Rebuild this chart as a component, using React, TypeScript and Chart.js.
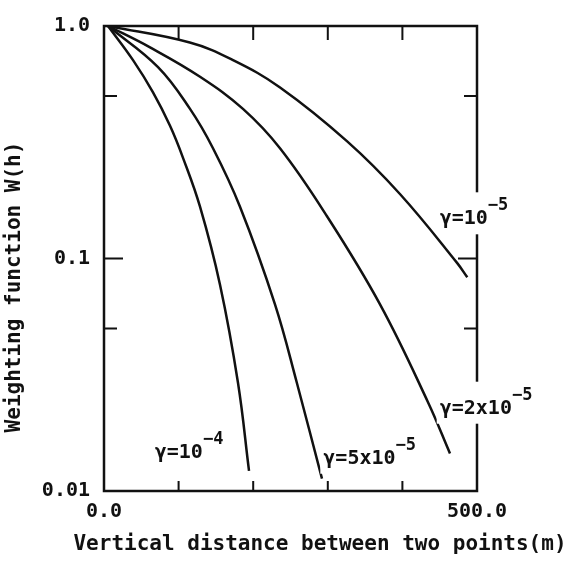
import React, { useEffect, useRef } from 'react';
import { Chart, registerables } from 'chart.js';

Chart.register(...registerables);

// Vertical distance h (m) and weighting W(h)
const hGamma1e4 = [5.4, 38.9, 65.7, 88.5, 105.9, 128.7, 155.5, 179.6, 194.4];
const wGamma1e4 = [1.0, 0.713, 0.518, 0.372, 0.271, 0.167, 0.0771, 0.0292, 0.0122];
const hGamma5e5 = [5.4, 72.4, 115.3, 146.1, 182.3, 229.2, 258.5, 292.2];
const wGamma5e5 = [1.0, 0.666, 0.44, 0.298, 0.167, 0.0635, 0.0292, 0.0113];
const hGamma2e5 = [5.4, 61.7, 128.7, 186.3, 235.9, 298.9, 370, 434.3, 463.8];
const wGamma2e5 = [1.0, 0.809, 0.605, 0.44, 0.298, 0.152, 0.0635, 0.0241, 0.0145];
const hGamma1e5 = [5.4, 115, 173, 236, 326, 397, 473, 487];
const wGamma1e5 = [1.0, 0.849, 0.713, 0.544, 0.319, 0.189, 0.096, 0.083];

const xTickValues = [0, 100, 200, 300, 400, 500];
const xTickLabels = ['0.0', '', '', '', '', '500.0'];
const yTickValues = [0.01, 0.05, 0.1, 0.5, 1];
const yTickLabels = ['0.01', '', '0.1', '', '1.0'];

const curveLabelMain = ['γ=10', 'γ=5x10', 'γ=2x10', 'γ=10'];
const curveLabelExp = ['−4', '−5', '−5', '−5'];
const curveLabelH = [68, 294, 450, 450];
const curveLabelW = [0.0138, 0.0131, 0.0215, 0.1403];

const xTitle = 'Vertical distance between two points(m)';
const yTitle = 'Weighting function W(h)';

const FONT = '"DejaVu Sans Mono", "Liberation Mono", monospace';
const INK = '#111';

const toPoints = (hs: number[], ws: number[]) => hs.map((h, i) => ({ x: h, y: ws[i] }));

const framePlugin = {
  id: 'frameAndLabels',
  afterDraw(chart: any) {
    const { ctx, chartArea } = chart;
    const { left, right, top, bottom } = chartArea;
    const xs = chart.scales.x;
    const ys = chart.scales.y;
    ctx.save();
    ctx.strokeStyle = INK;
    ctx.lineCap = 'butt';
    ctx.lineWidth = 2.5;
    ctx.strokeRect(left, top, right - left, bottom - top);

    // inward ticks
    ctx.lineWidth = 2;
    xTickValues.slice(1, -1).forEach((v) => {
      const px = xs.getPixelForValue(v);
      ctx.beginPath();
      ctx.moveTo(px, bottom);
      ctx.lineTo(px, bottom - 10);
      ctx.moveTo(px, top);
      ctx.lineTo(px, top + 14);
      ctx.stroke();
    });
    yTickValues.slice(1, -1).forEach((v) => {
      const py = ys.getPixelForValue(v);
      const len = v === 0.1 ? 19 : 13;
      ctx.beginPath();
      ctx.moveTo(left, py);
      ctx.lineTo(left + len, py);
      ctx.moveTo(right, py);
      ctx.lineTo(right - len, py);
      ctx.stroke();
    });

    // curve labels
    ctx.fillStyle = INK;
    ctx.textBaseline = 'alphabetic';
    ctx.textAlign = 'left';
    curveLabelMain.forEach((txt, i) => {
      const x = xs.getPixelForValue(curveLabelH[i]);
      const y = ys.getPixelForValue(curveLabelW[i]);
      ctx.font = `bold 20px ${FONT}`;
      const w1 = ctx.measureText(txt).width;
      ctx.font = `bold 17px ${FONT}`;
      const w2 = ctx.measureText(curveLabelExp[i]).width;
      ctx.fillStyle = '#fff';
      ctx.fillRect(x - 3, y - 32, w1 + w2 + 6, 42);
      ctx.fillStyle = INK;
      ctx.font = `bold 20px ${FONT}`;
      ctx.fillText(txt, x, y);
      ctx.font = `bold 17px ${FONT}`;
      ctx.fillText(curveLabelExp[i], x + w1, y - 14);
    });

    // axis titles
    ctx.font = `bold 21px ${FONT}`;
    ctx.textAlign = 'center';
    ctx.textBaseline = 'middle';
    ctx.fillText(xTitle, 320, 545);
    ctx.translate(15, 287);
    ctx.rotate(-Math.PI / 2);
    ctx.fillText(yTitle, 0, 0);
    ctx.restore();
  },
};

export default function App() {
  const ref = useRef<HTMLCanvasElement | null>(null);
  useEffect(() => {
    document.body.style.margin = '0';
    const canvas = ref.current;
    if (!canvas) return;
    const common = {
      borderColor: INK,
      borderWidth: 2.5,
      pointRadius: 0,
      fill: false,
      tension: 0.4,
    };
    const chart = new Chart(canvas, {
      type: 'line',
      data: {
        datasets: [
          { ...common, label: 'γ=10^-4', data: toPoints(hGamma1e4, wGamma1e4) },
          { ...common, label: 'γ=5x10^-5', data: toPoints(hGamma5e5, wGamma5e5) },
          { ...common, label: 'γ=2x10^-5', data: toPoints(hGamma2e5, wGamma2e5) },
          { ...common, label: 'γ=10^-5', data: toPoints(hGamma1e5, wGamma1e5) },
        ],
      },
      options: {
        animation: false,
        responsive: false,
        devicePixelRatio: 1,
        layout: { padding: { top: 15, right: 95, left: 0, bottom: 0 } },
        plugins: { legend: { display: false }, tooltip: { enabled: false } },
        scales: {
          x: {
            type: 'linear',
            min: 0,
            max: 500,
            grid: { display: false, drawTicks: false },
            border: { display: false },
            afterBuildTicks: (s: any) => {
              s.ticks = xTickValues.map((v) => ({ value: v }));
            },
            afterFit: (s: any) => {
              s.height = 72;
            },
            ticks: {
              autoSkip: false,
              maxRotation: 0,
              padding: 9,
              color: INK,
              font: { family: FONT, size: 20, weight: 'bold' },
              callback: (v: any) => {
                const i = xTickValues.indexOf(Number(v));
                return i >= 0 ? xTickLabels[i] : '';
              },
            },
          },
          y: {
            type: 'logarithmic',
            min: 0.01,
            max: 1,
            grid: { display: false, drawTicks: false },
            border: { display: false },
            afterBuildTicks: (s: any) => {
              s.ticks = yTickValues.map((v) => ({ value: v }));
            },
            afterFit: (s: any) => {
              s.width = 104;
            },
            ticks: {
              autoSkip: false,
              padding: 14,
              color: INK,
              font: { family: FONT, size: 20, weight: 'bold' },
              callback: (v: any) => {
                const i = yTickValues.findIndex((t) => Math.abs(t - Number(v)) < 1e-9);
                return i >= 0 ? yTickLabels[i] : '';
              },
            },
          },
        },
      },
      plugins: [framePlugin],
    });
    return () => chart.destroy();
  }, []);
  return (
    <div style={{ width: 572, height: 563, background: '#fff' }}>
      <canvas ref={ref} width={572} height={563} />
    </div>
  );
}
